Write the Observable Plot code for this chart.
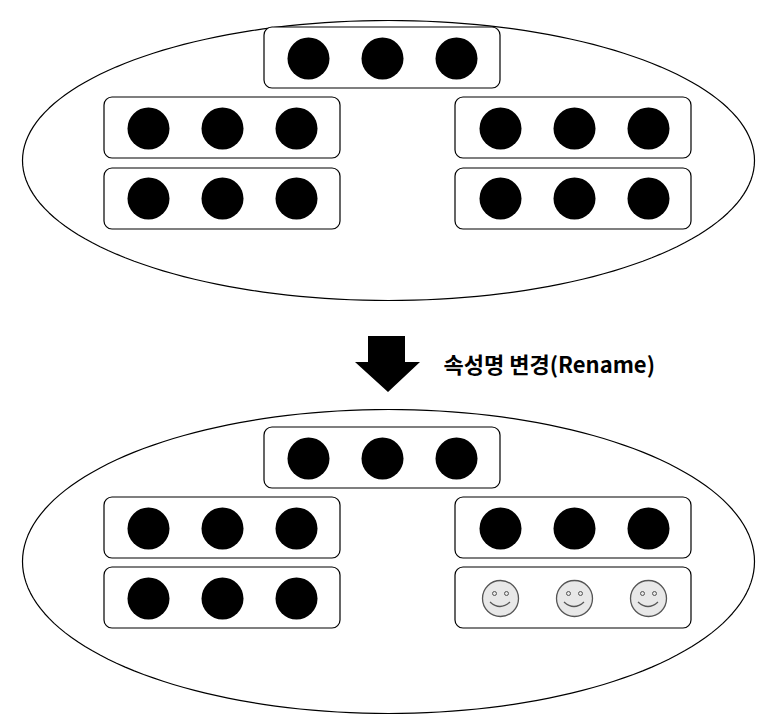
<!DOCTYPE html>
<html><head><meta charset="utf-8">
<script src="https://cdn.jsdelivr.net/npm/d3@7"></script>
<script src="https://cdn.jsdelivr.net/npm/@observablehq/plot@0.6"></script>
<style>body{margin:0;background:#fff}</style>
</head><body><div id="c"></div>
<script>
// Diagram layout data
const ellipses = [{cx:388, cy:160, rx:366, ry:140}, {cx:388, cy:561, rx:366, ry:152}];
const boxes = [
  {x1:264,x2:500,y1:27,y2:88},{x1:104,x2:340,y1:97,y2:158},{x1:104,x2:340,y1:168,y2:229},
  {x1:455,x2:691,y1:97,y2:158},{x1:455,x2:691,y1:168,y2:229},
  {x1:264,x2:500,y1:427,y2:488},{x1:104,x2:340,y1:497,y2:558},{x1:104,x2:340,y1:567,y2:628},
  {x1:455,x2:691,y1:497,y2:558},{x1:455,x2:691,y1:567,y2:628}
];
const dots = [];
const rowsTop = [[[308,382,456],58],[[148,222,296],128],[[148,222,296],198],[[500,574,648],128],[[500,574,648],198]];
const rowsBot = [[[308,382,456],458],[[148,222,296],528],[[148,222,296],598],[[500,574,648],528]];
for (const [xs,y] of [...rowsTop,...rowsBot]) for (const x of xs) dots.push({x,y});
const smileys = [{x:500,y:598},{x:574,y:598},{x:648,y:598}];
const label = "속성명 변경(Rename)";

const ellPts = ellipses.flatMap((e,i)=>d3.range(0,361,2).map(a=>({i,x:e.cx+e.rx*Math.cos(a*Math.PI/180),y:e.cy+e.ry*Math.sin(a*Math.PI/180)})));

const arrowMark = (index, {x, y}) => {
  const p = d3.path();
  const pts = [[368,336],[405,336],[405,362],[420,362],[388,392],[355,362],[368,362]];
  pts.forEach(([a,b],k)=> k? p.lineTo(x(a),y(b)) : p.moveTo(x(a),y(b)));
  p.closePath();
  const g = d3.create("svg:path").attr("d", p.toString()).attr("fill","#000");
  return g.node();
};
const mouthMark = (index, {x, y}) => {
  const g = d3.create("svg:g");
  for (const s of smileys) {
    g.append("path").attr("d", `M${x(s.x-10)},${y(s.y+4)} Q${x(s.x)},${y(s.y+13)} ${x(s.x+10)},${y(s.y+4)}`)
      .attr("fill","none").attr("stroke","#555").attr("stroke-width",1.3);
  }
  return g.node();
};

const chart = Plot.plot({
  width:776, height:722, margin:0,
  x:{domain:[0,776], axis:null}, y:{domain:[722,0], axis:null},
  marks:[
    Plot.line(ellPts,{x:"x",y:"y",z:"i",stroke:"#000",strokeWidth:1.2}),
    Plot.rect(boxes,{x1:"x1",x2:"x2",y1:"y1",y2:"y2",fill:"white",stroke:"#000",strokeWidth:1.2,rx:8}),
    Plot.dot(dots,{x:"x",y:"y",r:21,fill:"#000"}),
    Plot.dot(smileys,{x:"x",y:"y",r:18,fill:"#e8e8e8",stroke:"#555",strokeWidth:1.3}),
    Plot.dot(smileys.flatMap(s=>[{x:s.x-6,y:s.y-5},{x:s.x+6,y:s.y-5}]),{x:"x",y:"y",r:2,fill:"#e8e8e8",stroke:"#555",strokeWidth:1}),
    mouthMark,
    arrowMark,
    Plot.text([label],{x:()=>443,y:()=>365,text:d=>d,textAnchor:"start",fontSize:22,fontWeight:"bold",fill:"#000",fontFamily:"'Noto Sans CJK KR', Arial, sans-serif"})
  ]
});
document.getElementById("c").append(chart);
</script></body></html>
